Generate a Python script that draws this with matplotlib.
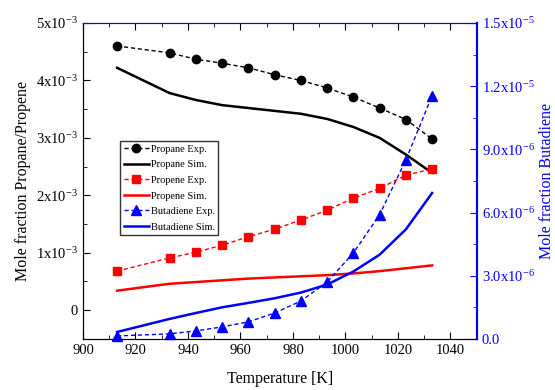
import matplotlib
matplotlib.use("Agg")
import matplotlib.pyplot as plt
from matplotlib.ticker import FixedLocator, MultipleLocator

# Temperatures [K] where experiments / simulations were read
temps = [913, 933, 943, 953, 963, 973, 983, 993, 1003, 1013, 1023, 1033]

# Left axis data (mole fraction)
propane_exp = [4.60e-3, 4.48e-3, 4.37e-3, 4.30e-3, 4.22e-3, 4.10e-3,
               4.00e-3, 3.87e-3, 3.71e-3, 3.52e-3, 3.32e-3, 2.98e-3]
propane_sim = [4.22e-3, 3.78e-3, 3.66e-3, 3.57e-3, 3.52e-3, 3.47e-3,
               3.42e-3, 3.33e-3, 3.19e-3, 3.00e-3, 2.71e-3, 2.39e-3]
propene_exp = [0.68e-3, 0.91e-3, 1.01e-3, 1.13e-3, 1.28e-3, 1.41e-3,
               1.57e-3, 1.74e-3, 1.95e-3, 2.12e-3, 2.35e-3, 2.46e-3]
propene_sim = [0.34e-3, 0.46e-3, 0.49e-3, 0.52e-3, 0.55e-3, 0.57e-3,
               0.59e-3, 0.61e-3, 0.64e-3, 0.68e-3, 0.73e-3, 0.78e-3]

# Right axis data (mole fraction)
butadiene_exp = [0.14e-6, 0.24e-6, 0.38e-6, 0.57e-6, 0.81e-6, 1.23e-6,
                 1.80e-6, 2.70e-6, 4.08e-6, 5.90e-6, 8.50e-6, 11.55e-6]
butadiene_sim = [0.33e-6, 0.95e-6, 1.23e-6, 1.50e-6, 1.71e-6, 1.93e-6,
                 2.20e-6, 2.58e-6, 3.20e-6, 4.00e-6, 5.20e-6, 6.93e-6]

left_ticks = [0, 1e-3, 2e-3, 3e-3, 4e-3, 5e-3]
left_labels = ["0", r"$\mathregular{1x10^{-3}}$", r"$\mathregular{2x10^{-3}}$",
               r"$\mathregular{3x10^{-3}}$", r"$\mathregular{4x10^{-3}}$",
               r"$\mathregular{5x10^{-3}}$"]
right_ticks = [0, 3e-6, 6e-6, 9e-6, 1.2e-5, 1.5e-5]
right_labels = ["0.0", r"$\mathregular{3.0x10^{-6}}$", r"$\mathregular{6.0x10^{-6}}$",
                r"$\mathregular{9.0x10^{-6}}$", r"$\mathregular{1.2x10^{-5}}$",
                r"$\mathregular{1.5x10^{-5}}$"]

plt.rcParams['font.family'] = ['Liberation Serif', 'DejaVu Serif']
plt.rcParams['mathtext.fontset'] = 'custom'
plt.rcParams['mathtext.rm'] = 'Liberation Serif'

fig = plt.figure(figsize=(5.55, 3.9), dpi=100)
ax = fig.add_axes([0.1495, 0.131, 0.7095, 0.81])
ax2 = ax.twinx()

dash = (0, (3, 2))
l1, = ax.plot(temps, propane_exp, color='black', ls=dash, lw=1, marker='o', ms=6,
              label='Propane Exp.')
l2, = ax.plot(temps, propane_sim, color='black', lw=1.8, label='Propane Sim.')
l3, = ax.plot(temps, propene_exp, color='red', ls=dash, lw=1, marker='s', ms=6,
              label='Propene Exp.')
l4, = ax.plot(temps, propene_sim, color='red', lw=1.8, label='Propene Sim.')
l5, = ax2.plot(temps, butadiene_exp, color='blue', ls=dash, lw=1, marker='^', ms=6.5,
               label='Butadiene Exp.', clip_on=False)
l6, = ax2.plot(temps, butadiene_sim, color='blue', lw=1.8, label='Butadiene Sim.')

ax.set_xlim(900, 1050)
ax.set_ylim(-0.5e-3, 5e-3)
ax2.set_ylim(0, 1.5e-5)

ax.xaxis.set_major_locator(MultipleLocator(20))
ax.xaxis.set_minor_locator(MultipleLocator(10))
ax.yaxis.set_major_locator(FixedLocator(left_ticks))
ax.yaxis.set_minor_locator(MultipleLocator(0.5e-3))
ax.set_yticklabels(left_labels)
ax2.yaxis.set_major_locator(FixedLocator(right_ticks))
ax2.yaxis.set_minor_locator(MultipleLocator(1.5e-6))
ax2.set_yticklabels(right_labels)

ax.tick_params(which='both', direction='in', top=True, labelsize=10.5)
ax.tick_params(which='major', length=5)
ax.tick_params(which='minor', length=3)
ax2.tick_params(which='both', direction='in', colors='blue', labelsize=10.5)
ax2.tick_params(which='major', length=5)
ax2.tick_params(which='minor', length=3)

# blue top and right frame like the original
for a in (ax, ax2):
    a.spines['top'].set_color('blue')
    a.spines['right'].set_color('blue')
    a.spines['right'].set_linewidth(1.5)

ax.set_xlabel('Temperature [K]', fontsize=11.5, labelpad=10)
ax.set_ylabel('Mole fraction Propane/Propene', fontsize=11.5)
ax2.set_ylabel('Mole fraction Butadiene', fontsize=11.5, color='blue', labelpad=3)

leg = ax.legend(handles=[l1, l2, l3, l4, l5, l6], loc='upper left',
                bbox_to_anchor=(0.095, 0.625), fontsize=7.5, frameon=True,
                fancybox=False, edgecolor='black', borderpad=0.3,
                labelspacing=0.6, handlelength=2.4, handletextpad=0.25,
                borderaxespad=0)
leg.get_frame().set_linewidth(1)

fig.savefig('out.png', dpi=100)
